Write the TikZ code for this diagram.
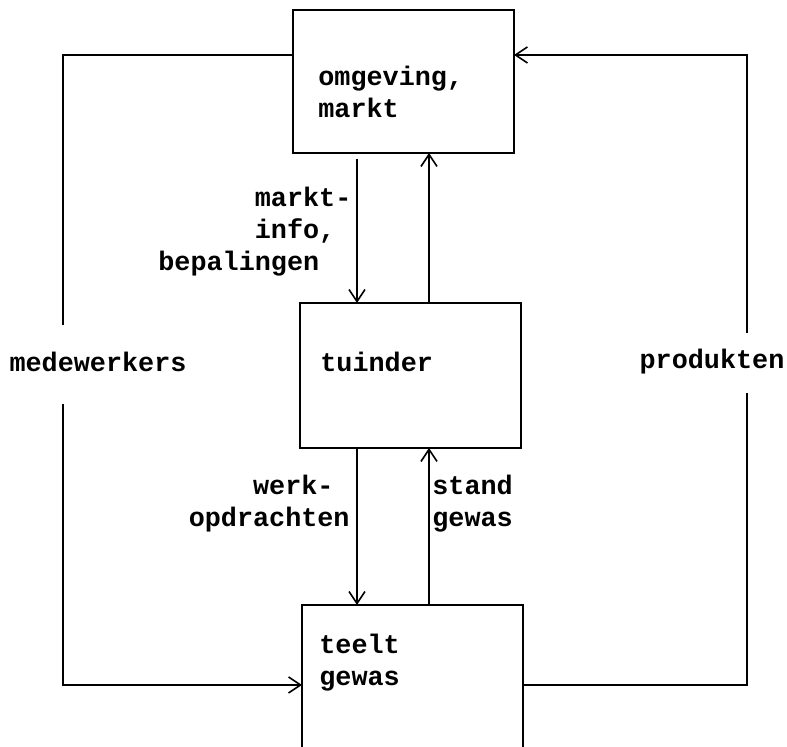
\documentclass[tikz,border=0pt]{standalone}
\usepackage{fontspec}
\setmonofont{Liberation Mono}
\usetikzlibrary{arrows.meta,positioning}

\begin{document}
\begin{tikzpicture}[
    x=0.5pt,y=0.5pt,
    box/.style={draw,line width=1.1pt,inner sep=0pt,outer sep=0pt,
                minimum width=110.5pt},
    txt/.style={font=\ttfamily\bfseries\fontsize{13.4}{16}\selectfont,
                align=left,inner sep=0pt},
    ln/.style={line width=0.8pt},
    arr/.style={-{Straight Barb[length=6pt,width=8pt]},line width=0.8pt}
  ]
    \useasboundingbox (0,0) rectangle (787,747);
    \clip (0,0) rectangle (787,747);
    \node[box,minimum height=71.5pt] (markt) at (403.5,665.5) {};
    \node[box,minimum height=72.5pt] (tuinder) at (410.5,371.5) {};
    \node[box,minimum height=100pt] (teelt) at (412.5,42) {};
    \node[txt,anchor=west] (omgeving) at (318,655.5) {omgeving,\\markt};
    \node[txt,anchor=west] (tuindertxt) at (320,385) {tuinder};
    \node[txt,anchor=west] (teelttxt) at (319,84) {teelt\\gewas};
    \node[txt,anchor=west] (info) at (158,515) {\phantom{bepali}markt-\\\phantom{bepali}info,\\bepalingen};
    \node[txt,anchor=east] (werk) at (350,243) {\phantom{opdr}werk-\\opdrachten};
    \node[txt,anchor=west] (stand) at (432,243) {stand\\gewas};
    \node[txt] (medew) at (98,385) {medewerkers};
    \node[txt] (prod) at (712,385) {produkten};
    \coordinate (dn) at (357,0);
    \coordinate (up) at (429,0);
    \coordinate (lt) at (63,692);
    \coordinate (lgapt) at (63,422);
    \coordinate (lgapb) at (63,343);
    \coordinate (lb) at (63,62);
    \coordinate (rt) at (747,692);
    \coordinate (rgapt) at (747,414);
    \coordinate (rgapb) at (747,354);
    \coordinate (rb) at (747,62);
    \draw[arr,shorten <=3pt] (markt.south -| dn) -- (tuinder.north -| dn);
    \draw[arr] (tuinder.north -| up) -- (markt.south -| up);
    \draw[arr] (tuinder.south -| dn) -- (teelt.north -| dn);
    \draw[arr] (teelt.north -| up) -- (tuinder.south -| up);
    \draw[ln] (lt -| markt.west) -- (lt) -- (lgapt);
    \draw[arr] (lgapb) -- (lb) -- (lb -| teelt.west);
    \draw[ln] (rb -| teelt.east) -- (rb) -- (rgapb);
    \draw[arr] (rgapt) -- (rt) -- (rt -| markt.east);
\end{tikzpicture}
\end{document}
